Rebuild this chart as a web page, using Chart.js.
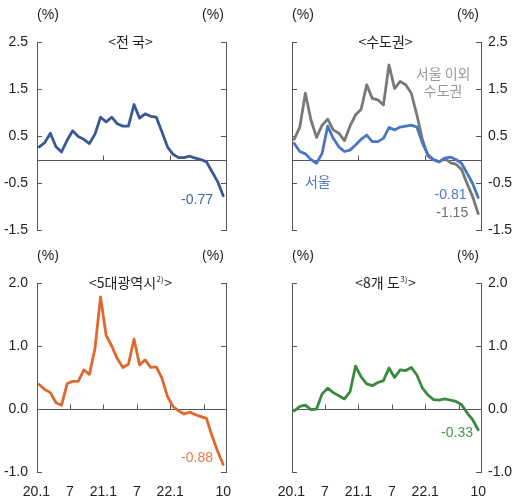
<!DOCTYPE html>
<html>
<head>
<meta charset="utf-8">
<script src="https://cdn.jsdelivr.net/npm/chart.js@4/dist/chart.umd.min.js"></script>
<style>
  html, body { margin: 0; padding: 0; background: #fff; }
  body { width: 513px; height: 503px; position: relative; overflow: hidden; }
  .panel { position: absolute; }
</style>
</head>
<body>
<div class="panel" style="left:0;top:0;width:256px;height:250px"><canvas id="nation"></canvas></div>
<div class="panel" style="left:256px;top:0;width:257px;height:250px"><canvas id="capital"></canvas></div>
<div class="panel" style="left:0;top:250px;width:256px;height:253px"><canvas id="metro"></canvas></div>
<div class="panel" style="left:256px;top:250px;width:257px;height:253px"><canvas id="province"></canvas></div>
<script>
// Monthly change (%), Jan 2020 – Oct 2022
const months = ['20.1','20.2','20.3','20.4','20.5','20.6','20.7','20.8','20.9','20.10','20.11','20.12',
                '21.1','21.2','21.3','21.4','21.5','21.6','21.7','21.8','21.9','21.10','21.11','21.12',
                '22.1','22.2','22.3','22.4','22.5','22.6','22.7','22.8','22.9','22.10'];

const nationwide = [0.27,0.36,0.56,0.27,0.16,0.41,0.61,0.49,0.43,0.34,0.54,0.90,
                    0.80,0.90,0.76,0.71,0.71,1.17,0.88,0.97,0.92,0.90,0.59,0.27,
                    0.11,0.04,0.04,0.07,0.03,0.00,-0.05,-0.26,-0.47,-0.77];

const seoul = [0.34,0.17,0.12,0.00,-0.08,0.13,0.71,0.45,0.27,0.17,0.20,0.31,
               0.43,0.52,0.38,0.38,0.45,0.68,0.63,0.69,0.71,0.73,0.69,0.35,
               0.10,0.00,-0.05,0.03,0.05,0.00,-0.08,-0.29,-0.51,-0.81];

const capitalExSeoul = [0.43,0.69,1.41,0.84,0.47,0.73,0.86,0.63,0.56,0.40,0.71,0.95,
                        1.07,1.59,1.30,1.27,1.16,2.01,1.51,1.66,1.59,1.41,0.95,0.42,
                        0.07,-0.01,-0.05,0.03,-0.07,-0.10,-0.21,-0.51,-0.79,-1.15];

const metro5 = [0.39,0.31,0.26,0.10,0.06,0.40,0.44,0.44,0.62,0.55,0.96,1.78,
                1.17,1.00,0.80,0.66,0.71,1.11,0.70,0.78,0.66,0.67,0.49,0.20,
                0.04,-0.03,-0.08,-0.05,-0.09,-0.12,-0.15,-0.43,-0.67,-0.88];

const province8 = [-0.03,0.04,0.06,-0.01,0.00,0.24,0.33,0.26,0.21,0.16,0.27,0.68,
                   0.51,0.40,0.37,0.42,0.45,0.65,0.50,0.62,0.61,0.66,0.54,0.33,
                   0.22,0.15,0.14,0.16,0.14,0.12,0.07,-0.06,-0.17,-0.33];

// Axis ticks
const yTicksTop = [-1.5, -0.5, 0.5, 1.5, 2.5];
const yTicksBottom = [-1.0, 0.0, 1.0, 2.0];
const xTickLabels = ['20.1', '7', '21.1', '7', '22.1', '10'];
const xTickAt = [-0.5, 5.5, 11.5, 17.5, 23.5, 33];        // month index of each label
const monthMarksTop = [11.5, 23.5];                       // year boundaries
const monthMarksBottom = [5.5, 11.5, 17.5, 23.5, 29.5];   // half-year boundaries

const NUM_FONT = "'Liberation Sans', Arial, sans-serif";
const KR_FONT = "'Noto Sans CJK KR', 'Noto Sans', sans-serif";
const AXIS_COLOR = '#555';
const TEXT_COLOR = '#222';

const toPoints = vals => vals.map((v, i) => ({ x: i, y: v }));

function decorPlugin(cfg) {
  return {
    id: 'panelDecor',
    beforeDatasetsDraw(chart) {
      const { ctx, chartArea: a, scales: { x, y } } = chart;
      const seg = (x1, y1, x2, y2) => { ctx.beginPath(); ctx.moveTo(x1, y1); ctx.lineTo(x2, y2); ctx.stroke(); };
      ctx.save();
      ctx.strokeStyle = AXIS_COLOR;
      ctx.lineWidth = 1;
      const y0 = Math.round(y.getPixelForValue(0)) + 0.5;
      seg(a.left, y0, a.right, y0);
      cfg.monthMarks.forEach(m => {
        const px = Math.round(x.getPixelForValue(m)) + 0.5;
        seg(px, y0, px, y0 - 5);
      });
      cfg.yTicks.forEach(v => {
        const py = Math.round(y.getPixelForValue(v)) + 0.5;
        seg(a.left, py, a.left + 5, py);
        seg(a.right - 5, py, a.right, py);
      });
      ctx.restore();
    },
    afterDraw(chart) {
      const { ctx, chartArea: a, scales: { x, y } } = chart;
      ctx.save();
      ctx.textBaseline = 'middle';
      // unit labels
      ctx.fillStyle = TEXT_COLOR;
      ctx.font = `14px ${NUM_FONT}`;
      ctx.textAlign = 'center';
      ctx.fillText('(%)', a.left + 11, a.top - 27);
      ctx.fillText('(%)', a.right - 13, a.top - 27);
      // panel title, with optional superscript note
      const cx = (a.left + a.right) / 2 - 1;
      const cy = a.top;
      ctx.font = `14px ${KR_FONT}`;
      const w1 = ctx.measureText(cfg.title).width;
      ctx.font = `8px ${KR_FONT}`;
      const w2 = cfg.note ? ctx.measureText(cfg.note).width + 1 : 0;
      ctx.font = `14px ${KR_FONT}`;
      const w3 = ctx.measureText('>').width;
      let sx = cx - (w1 + w2 + w3) / 2;
      ctx.textAlign = 'left';
      ctx.fillText(cfg.title, sx, cy);
      if (cfg.note) {
        ctx.font = `8px ${KR_FONT}`;
        ctx.fillText(cfg.note, sx + w1 + 0.5, cy - 4);
        ctx.font = `14px ${KR_FONT}`;
      }
      ctx.fillText('>', sx + w1 + w2, cy);
      // callouts
      cfg.callouts.forEach(c => {
        ctx.font = `${c.size || 14}px ${c.kr ? KR_FONT : NUM_FONT}`;
        ctx.fillStyle = c.color;
        ctx.textAlign = c.align;
        ctx.fillText(c.text, x.getPixelForValue(c.at[0]), y.getPixelForValue(c.at[1]));
      });
      ctx.restore();
    }
  };
}

function makePanel(id, cfg) {
  const yAxis = (pos) => ({
    position: pos,
    min: cfg.yTicks[0],
    max: cfg.yTicks[cfg.yTicks.length - 1],
    afterBuildTicks: s => { s.ticks = cfg.yTicks.map(v => ({ value: v })); },
    grid: { display: false, drawTicks: false },
    border: { display: true, color: AXIS_COLOR, width: 1 },
    ticks: {
      display: cfg.labelSide === pos,
      padding: pos === 'left' ? 9 : 7,
      color: TEXT_COLOR,
      font: { family: NUM_FONT, size: 14 },
      callback: v => Number(v).toFixed(1)
    },
    afterFit: s => { s.width = pos === 'left' ? cfg.leftW : cfg.rightW; }
  });

  new Chart(document.getElementById(id), {
    type: 'line',
    data: {
      datasets: cfg.series.map(s => ({
        data: toPoints(s.values),
        borderColor: s.color,
        borderWidth: 2.8,
        pointRadius: 0,
        tension: 0,
        fill: false,
        borderJoinStyle: 'round',
        borderCapStyle: 'round',
        yAxisID: 'y'
      }))
    },
    options: {
      responsive: true,
      maintainAspectRatio: false,
      animation: false,
      events: [],
      layout: { padding: { top: cfg.top, left: 0, right: 0, bottom: 0 } },
      plugins: { legend: { display: false }, tooltip: { enabled: false }, title: { display: false } },
      scales: {
        x: {
          type: 'linear',
          position: 'bottom',
          min: -0.4,
          max: 33.5,
          afterBuildTicks: s => { s.ticks = xTickAt.map(v => ({ value: v })); },
          grid: { display: false, drawTicks: false },
          border: { display: false },
          ticks: {
            display: cfg.showMonths,
            autoSkip: false,
            maxRotation: 0,
            padding: 12,
            color: TEXT_COLOR,
            font: { family: NUM_FONT, size: 14 },
            callback: (v, i) => xTickLabels[i]
          },
          afterFit: s => { s.height = cfg.xH; }
        },
        y: yAxis('left'),
        y2: yAxis('right')
      }
    },
    plugins: [decorPlugin(cfg)]
  });
}

makePanel('nation', {
  title: '<전 국', note: '',
  yTicks: yTicksTop, labelSide: 'left', leftW: 37, rightW: 30, top: 42, xH: 20,
  showMonths: false, monthMarks: monthMarksTop,
  series: [{ values: nationwide, color: '#3a5896' }],
  callouts: [{ text: '-0.77', color: '#4163a6', align: 'right', at: [31.17, -0.86] }]
});

makePanel('capital', {
  title: '<수도권', note: '',
  yTicks: yTicksTop, labelSide: 'right', leftW: 36, rightW: 32, top: 42, xH: 20,
  showMonths: false, monthMarks: monthMarksTop,
  series: [
    { values: seoul, color: '#4a76c2' },
    { values: capitalExSeoul, color: '#797979' }
  ],
  callouts: [
    { text: '서울 이외', color: '#9a9a9a', align: 'center', at: [26.7, 1.82], kr: true },
    { text: '수도권', color: '#9a9a9a', align: 'center', at: [26.7, 1.46], kr: true },
    { text: '서울', color: '#4a76c2', align: 'left', at: [1.93, -0.48], kr: true },
    { text: '-0.81', color: '#4d7bc6', align: 'right', at: [30.9, -0.755] },
    { text: '-1.15', color: '#6f6f6f', align: 'right', at: [31.2, -1.14] }
  ]
});

makePanel('metro', {
  title: '<5대광역시', note: '2)',
  yTicks: yTicksBottom, labelSide: 'left', leftW: 37, rightW: 30, top: 33, xH: 31,
  showMonths: true, monthMarks: monthMarksBottom,
  series: [{ values: metro5, color: '#e0672e' }],
  callouts: [{ text: '-0.88', color: '#ec7a45', align: 'right', at: [31.17, -0.78] }]
});

makePanel('province', {
  title: '<8개 도', note: '3)',
  yTicks: yTicksBottom, labelSide: 'right', leftW: 36, rightW: 32, top: 33, xH: 31,
  showMonths: true, monthMarks: monthMarksBottom,
  series: [{ values: province8, color: '#3b8a3f' }],
  callouts: [{ text: '-0.33', color: '#46964a', align: 'right', at: [32.07, -0.38] }]
});
</script>
</body>
</html>
